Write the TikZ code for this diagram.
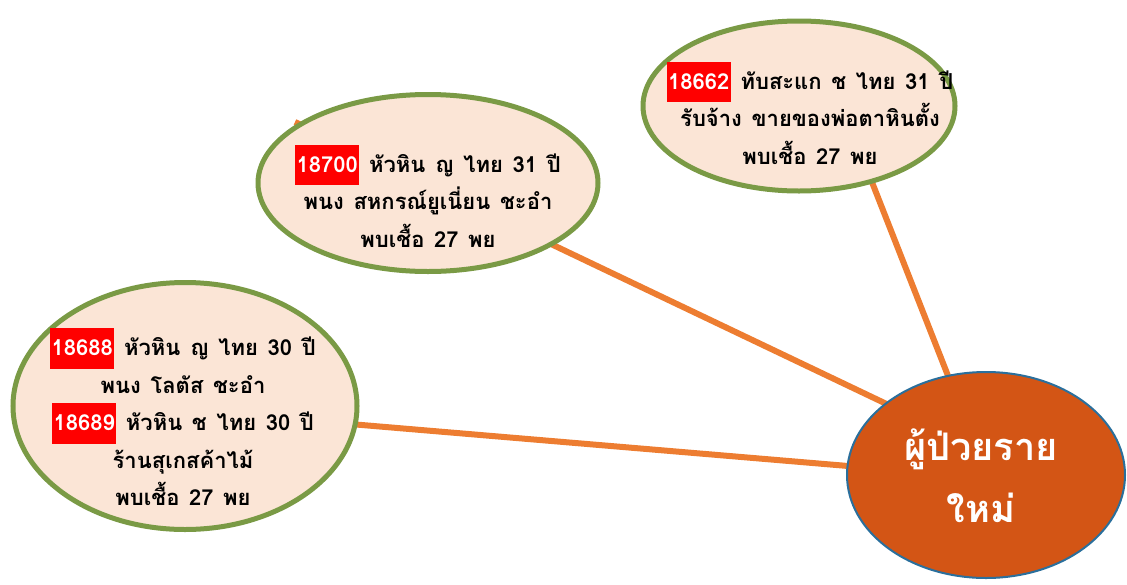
\documentclass[tikz,border=0pt]{standalone}
\usepackage{fontspec}
\usepackage{xcolor}
\newfontfamily\thaifont[Script=Thai,WordSpace=1.3]{Loma}
\usetikzlibrary{shapes.geometric}
\definecolor{bubblefill}{HTML}{FBE5D6}
\definecolor{bubbleline}{HTML}{7A9A45}
\definecolor{linkorange}{HTML}{ED7D31}
\definecolor{bigfill}{HTML}{D35515}
\definecolor{bigline}{HTML}{2A6F9C}
\newcommand\nbox[1]{{\setlength\fboxsep{1.5pt}\colorbox{red}{\strut\color{white}#1}}}
\tikzset{
  bubble/.style={ellipse, draw=bubbleline, fill=bubblefill, line width=5pt, inner sep=0pt},
  bigbubble/.style={ellipse, draw=bigline, fill=bigfill, line width=2pt, inner sep=0pt},
  bubbletext/.style={align=center, font=\thaifont\bfseries\fontsize{22}{37.5}\selectfont, text=black, inner sep=0pt},
  bigtext/.style={align=center, font=\thaifont\bfseries\fontsize{38}{62}\selectfont, text=white, inner sep=0pt},
  link/.style={draw=linkorange, line width=6pt}
}
\begin{document}
\begin{tikzpicture}[x=1pt,y=-1pt]
\useasboundingbox (0,0) rectangle (1127,584);
% connector end points
\coordinate (a1) at (868,172);
\coordinate (b1) at (952,386);
\coordinate (a2) at (295,122);
\coordinate (b2) at (895,408);
\coordinate (a3) at (350,424);
\coordinate (b3) at (860,467);
\draw[link] (a1) -- (b1);
\draw[link] (a2) -- (b2);
\draw[link] (a3) -- (b3);
% bubbles
\node[bubble, minimum width=312pt, minimum height=170pt] (e1) at (799,106) {};
\node[bubble, minimum width=340pt, minimum height=177pt] (e2) at (428,183) {};
\node[bubble, minimum width=344pt, minimum height=247pt] (e3) at (185,406) {};
\node[bigbubble, minimum width=278pt, minimum height=206pt] (e4) at (986,475) {};
% texts
\node[bubbletext] (t1) at (810,113) {\nbox{18662} ทับสะแก ช ไทย 31 ปี\\รับจ้าง ขายของพ่อตาหินตั้ง\\พบเชื้อ 27 พย};
\node[bubbletext] (t2) at (428,196) {\nbox{18700} หัวหิน ญ ไทย 31 ปี\\พนง สหกรณ์ยูเนี่ยน ชะอำ\\พบเชื้อ 27 พย};
\node[bubbletext] (t3) at (183,417) {\nbox{18688} หัวหิน ญ ไทย 30 ปี\\พนง โลตัส ชะอำ\\\nbox{18689} หัวหิน ช ไทย 30 ปี\\ร้านสุเกสค้าไม้\\พบเชื้อ 27 พย};
\node[bigtext] (t4) at (981,476) {ผู้ป่วยราย\\ใหม่};
\end{tikzpicture}
\end{document}
